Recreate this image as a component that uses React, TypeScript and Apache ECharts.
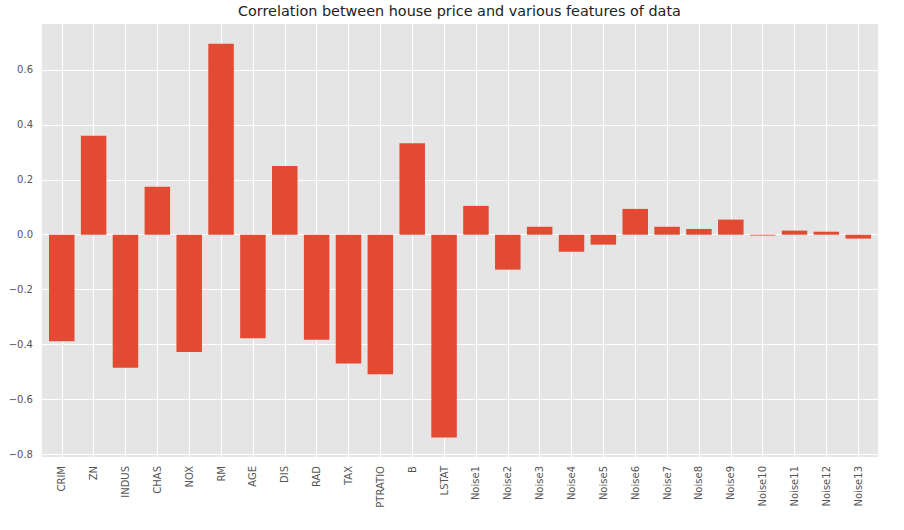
import React, { useEffect, useRef } from "react";
import * as echarts from "echarts";

const TITLE = "Correlation between house price and various features of data";

const features = [
  "CRIM", "ZN", "INDUS", "CHAS", "NOX", "RM", "AGE", "DIS", "RAD", "TAX",
  "PTRATIO", "B", "LSTAT", "Noise1", "Noise2", "Noise3", "Noise4", "Noise5",
  "Noise6", "Noise7", "Noise8", "Noise9", "Noise10", "Noise11", "Noise12", "Noise13",
];

const correlations = [
  -0.388, 0.36, -0.484, 0.175, -0.427, 0.695, -0.377, 0.25, -0.382, -0.469,
  -0.508, 0.333, -0.738, 0.105, -0.127, 0.029, -0.062, -0.036,
  0.094, 0.029, 0.021, 0.055, -0.003, 0.015, 0.011, -0.014,
];

const yTicks = [-0.8, -0.6, -0.4, -0.2, 0.0, 0.2, 0.4, 0.6];

const FONT = "DejaVu Sans";

export default function App() {
  const ref = useRef<HTMLDivElement>(null);

  useEffect(() => {
    document.body.style.margin = "0";
    if (!ref.current) return;
    const chart = echarts.init(ref.current, null, { renderer: "svg" });
    const xIdx = features.map((_, i) => i);
    chart.setOption({
      animation: false,
      backgroundColor: "#ffffff",
      graphic: [
        {
          type: "text",
          left: 238,
          top: 4,
          style: {
            text: TITLE,
            fontFamily: FONT,
            fontSize: 14.4,
            fill: "#222222",
          },
        },
      ],
      grid: {
        left: 42,
        right: 26,
        top: 24,
        bottom: 73,
        show: true,
        backgroundColor: "#E5E5E5",
        borderWidth: 0,
      },
      xAxis: {
        type: "value",
        min: -0.62,
        max: 25.62,
        axisLine: { show: false },
        axisTick: { show: false, customValues: xIdx },
        splitLine: { show: true, lineStyle: { color: "#ffffff", width: 1.2 } },
        axisLabel: {
          customValues: xIdx,
          rotate: 90,
          margin: 9,
          fontFamily: FONT,
          fontSize: 10,
          color: "#555555",
          formatter: (v: number) => features[Math.round(v)] ?? "",
        },
      },
      yAxis: {
        type: "value",
        min: -0.809,
        max: 0.767,
        axisLine: { show: false },
        axisTick: { show: false, customValues: yTicks },
        splitLine: { show: true, lineStyle: { color: "#ffffff", width: 1.2 } },
        axisLabel: {
          customValues: yTicks,
          margin: 9,
          fontFamily: FONT,
          fontSize: 10,
          color: "#555555",
          formatter: (v: number) => v.toFixed(1).replace("-", "\u2212"),
        },
      },
      series: [
        {
          type: "bar",
          barWidth: 25.5,
          itemStyle: { color: "#E24A33" },
          data: correlations.map((v, i) => [i, v]),
        },
      ],
    });
    return () => chart.dispose();
  }, []);

  return <div ref={ref} style={{ width: 904, height: 530 }} />;
}
